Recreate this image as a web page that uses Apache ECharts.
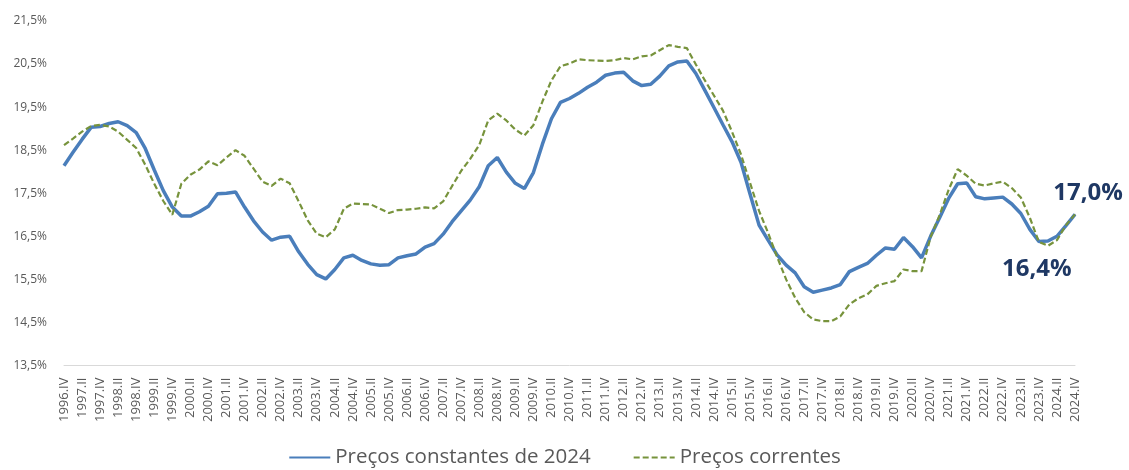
<!DOCTYPE html>
<html>
<head>
<meta charset="utf-8">
<script src="https://cdn.jsdelivr.net/npm/echarts@6/dist/echarts.min.js"></script>
<style>
  html, body { margin: 0; padding: 0; background: #fff; }
  #chart { width: 1129px; height: 470px; }
</style>
</head>
<body>
<div id="chart"></div>
<script>
// trimestres 1996.IV .. 2024.IV
var firstYear = 1996
var lastYear = 2024
var quarterNames = ['I', 'II', 'III', 'IV']

var categories = ['1996.IV']
for (var y = firstYear + 1; y <= lastYear; y++) {
    quarterNames.forEach(function (q) { categories.push(y + '.' + q) })
}

// Preços constantes de 2024 (%)
var constantes = [
    18.14, 18.45, 18.75, 19.03, 19.05, 19.12, 19.16, 19.07, 18.91, 18.54,
    18.04, 17.56, 17.18, 16.97, 16.97, 17.07, 17.20, 17.49, 17.50, 17.53,
    17.18, 16.86, 16.60, 16.41, 16.48, 16.50, 16.14, 15.85, 15.61, 15.51,
    15.73, 16.00, 16.06, 15.94, 15.86, 15.83, 15.84, 16.00, 16.05, 16.09,
    16.25, 16.33, 16.55, 16.84, 17.09, 17.34, 17.65, 18.14, 18.33, 17.99,
    17.73, 17.61, 17.98, 18.64, 19.23, 19.61, 19.70, 19.82, 19.96, 20.08,
    20.24, 20.29, 20.31, 20.11, 20.00, 20.03, 20.22, 20.46, 20.55, 20.57,
    20.28, 19.89, 19.49, 19.09, 18.70, 18.22, 17.48, 16.76, 16.41, 16.07,
    15.83, 15.65, 15.33, 15.20, 15.25, 15.30, 15.38, 15.68, 15.78, 15.87,
    16.06, 16.23, 16.20, 16.47, 16.26, 16.00, 16.50, 16.93, 17.38, 17.72,
    17.74, 17.42, 17.37, 17.39, 17.41, 17.25, 17.03, 16.66, 16.38, 16.39,
    16.50, 16.75, 17.01
]

// Preços correntes (%)
var correntes = [
    18.62, 18.77, 18.93, 19.06, 19.09, 19.05, 18.93, 18.74, 18.55, 18.16,
    17.72, 17.32, 17.00, 17.72, 17.93, 18.05, 18.24, 18.15, 18.33, 18.50,
    18.37, 18.07, 17.77, 17.67, 17.84, 17.73, 17.31, 16.87, 16.56, 16.48,
    16.66, 17.14, 17.26, 17.25, 17.24, 17.14, 17.04, 17.11, 17.12, 17.14,
    17.17, 17.15, 17.31, 17.67, 18.02, 18.30, 18.62, 19.19, 19.35, 19.19,
    18.98, 18.84, 19.08, 19.63, 20.12, 20.45, 20.51, 20.61, 20.59, 20.58,
    20.57, 20.59, 20.64, 20.61, 20.68, 20.70, 20.82, 20.94, 20.90, 20.87,
    20.49, 20.12, 19.77, 19.42, 18.93, 18.40, 17.74, 17.09, 16.58, 16.02,
    15.50, 15.07, 14.74, 14.57, 14.53, 14.53, 14.64, 14.92, 15.06, 15.15,
    15.35, 15.41, 15.46, 15.73, 15.69, 15.69, 16.48, 16.99, 17.58, 18.06,
    17.91, 17.72, 17.68, 17.73, 17.77, 17.62, 17.40, 16.93, 16.37, 16.28,
    16.41, 16.76, 17.01
]

var seriesNames = ['Preços constantes de 2024', 'Preços correntes']
var yMin = 13.5
var yMax = 21.5

// pontos destacados: 2023.IV e 2024.IV
var idxMin = 108
var idxLast = 112

function pct (v) {
    return v.toFixed(1).replace('.', ',') + '%'
}

var labelStyle = {
    show: true,
    fontFamily: 'Open Sans',
    fontWeight: 'bold',
    fontSize: 24,
    color: '#1F3864',
    opacity: 1,
    formatter: function (p) { return pct(p.value) }
}

var constData = constantes.map(function (v, i) {
    if (i === idxLast) {
        return {
            value: v, symbol: 'circle', symbolSize: 1,
            label: Object.assign({}, labelStyle, { position: 'top', offset: [13, -4] })
        }
    }
    if (i === idxMin) {
        return {
            value: v, symbol: 'circle', symbolSize: 1,
            label: Object.assign({}, labelStyle, { position: 'bottom', offset: [-2, 10] })
        }
    }
    return v
})

var myChart = echarts.init(document.getElementById('chart'))
myChart.setOption({
    animation: false,
    textStyle: { fontFamily: 'Open Sans' },
    grid: {
        left: 64,
        right: 54,
        top: 21,
        bottom: 104.5,
        containLabel: false,
        outerBoundsMode: 'none'
    },
    legend: {
        bottom: -3,
        left: 'center',
        itemWidth: 41,
        itemHeight: 20,
        itemGap: 42,
        itemStyle: { opacity: 0 },
        textStyle: { fontSize: 20.5, color: '#595959', fontFamily: 'Open Sans' },
        data: seriesNames
    },
    xAxis: {
        type: 'category',
        data: categories,
        boundaryGap: false,
        axisLine: { lineStyle: { color: '#D9D9D9', width: 1 } },
        axisTick: { show: false },
        axisLabel: {
            interval: 1,
            rotate: 90,
            margin: 12,
            fontSize: 13,
            color: '#595959'
        },
        splitLine: { show: false }
    },
    yAxis: {
        type: 'value',
        min: yMin,
        max: yMax,
        interval: 0.5,
        axisLine: { show: false },
        axisTick: { show: false },
        splitLine: { show: false },
        axisLabel: {
            margin: 17,
            fontSize: 12,
            color: '#595959',
            formatter: function (v) {
                return Math.round(v * 10) % 10 === 5 ? pct(v) : ''
            }
        }
    },
    series: [
        {
            name: seriesNames[0],
            type: 'line',
            symbol: 'none',
            data: constData,
            lineStyle: { color: '#4A7EBB', width: 3.5 },
            itemStyle: { color: '#4A7EBB' },
            z: 2
        },
        {
            name: seriesNames[1],
            type: 'line',
            symbol: 'none',
            data: correntes,
            lineStyle: { color: '#77933C', width: 2.2, type: [6, 3] },
            itemStyle: { color: '#77933C' },
            z: 3
        }
    ]
})
</script>
</body>
</html>
